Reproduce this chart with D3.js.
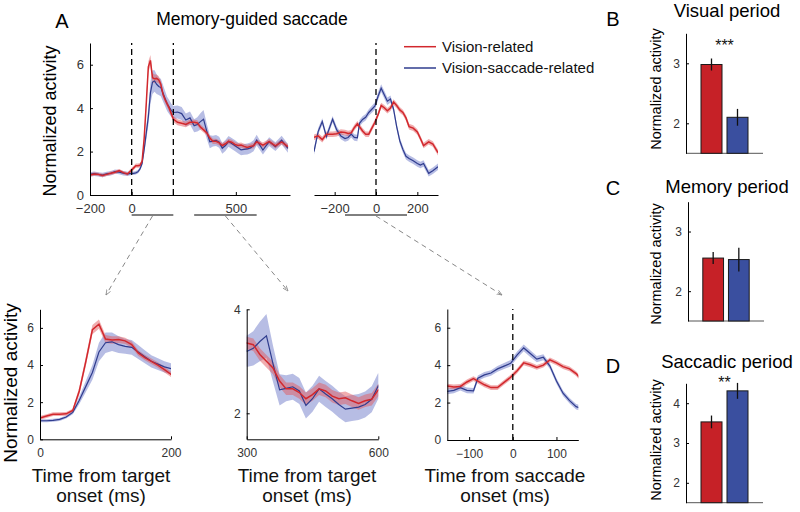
<!DOCTYPE html>
<html><head><meta charset="utf-8">
<script src="https://cdn.jsdelivr.net/npm/d3@7"></script>
<style>
body{margin:0;background:#fff}
text{font-family:"Liberation Sans",Arial,sans-serif}
</style>
</head><body>
<svg id="c" width="800" height="512"></svg>
<script>
// ---------- DATA ----------
// target-aligned time (ms)
const targetTime = [-200,-180,-160,-140,-120,-100,-80,-60,-40,-20,
  0,10,20,30,40,50,60,70,80,90,
  100,110,120,130,140,150,160,170,180,190,
  200,220,240,260,280,
  300,315,330,345,360,375,390,405,420,435,450,465,480,495,510,525,540,555,570,585,600,
  630,660,690,720,750];
const targetRed = [0.92,0.97,0.95,0.90,0.95,1.00,1.05,1.12,1.03,0.97,
  1.15,1.25,1.35,1.35,1.37,1.55,2.60,4.20,5.90,6.20,
  5.40,5.35,5.37,5.30,5.10,4.65,4.40,4.20,4.00,3.75,
  3.50,3.35,3.30,3.25,3.35,
  3.35,3.32,3.13,3.00,2.87,2.62,2.47,2.47,2.40,2.28,2.36,2.47,2.43,2.33,2.28,2.30,2.24,2.19,2.24,2.27,2.45,
  2.30,2.46,2.26,2.45,2.23];
const targetRedSem = [0.08,0.08,0.08,0.08,0.08,0.08,0.08,0.08,0.08,0.08,
  0.10,0.10,0.10,0.10,0.10,0.10,0.20,0.25,0.25,0.25,
  0.22,0.20,0.18,0.17,0.16,0.15,0.15,0.15,0.15,0.15,
  0.14,0.14,0.13,0.13,0.13,
  0.12,0.12,0.12,0.12,0.12,0.12,0.12,0.12,0.12,0.12,0.12,0.12,0.12,0.12,0.12,0.12,0.12,0.12,0.12,0.12,0.12,
  0.12,0.12,0.12,0.12,0.12];
const targetBlue = [0.95,0.98,0.95,0.92,0.97,1.00,1.08,1.05,1.00,0.97,
  1.00,1.00,1.02,1.07,1.20,1.45,2.10,2.85,3.60,4.70,
  5.20,5.25,5.10,5.00,4.95,4.70,4.45,4.20,4.05,3.90,
  3.80,3.82,3.75,3.45,3.55,
  3.19,3.25,3.38,3.49,2.95,2.45,2.48,2.51,2.43,2.15,2.28,2.47,2.37,2.28,2.17,2.08,2.10,2.12,2.17,2.27,2.53,
  2.07,2.46,2.23,2.53,2.15];
const targetBlueSem = [0.10,0.10,0.10,0.10,0.10,0.10,0.10,0.10,0.10,0.10,
  0.08,0.08,0.08,0.08,0.08,0.10,0.20,0.30,0.40,0.50,
  0.55,0.50,0.45,0.40,0.40,0.38,0.35,0.33,0.32,0.30,
  0.30,0.30,0.30,0.30,0.30,
  0.30,0.33,0.38,0.42,0.35,0.30,0.25,0.25,0.25,0.25,0.25,0.25,0.25,0.25,0.25,0.25,0.25,0.25,0.25,0.25,0.25,
  0.20,0.20,0.20,0.20,0.20];

// saccade-aligned time (ms)
const saccTime = [-300,-280,-260,-240,-210,-190,-170,-150,
  -135,-120,-105,-90,-80,-65,-50,-35,-20,-5,
  10,25,40,55,70,85,100,115,130,145,
  160,180,200,215,230,255,275,300];
const saccRed = [2.66,2.72,2.55,2.80,2.80,2.82,2.90,2.88,
  2.83,2.86,3.10,3.28,3.15,2.95,2.80,2.80,3.08,3.35,
  3.70,4.12,4.02,3.88,4.00,4.28,4.12,3.92,3.80,3.55,
  3.15,3.08,2.90,2.60,2.28,2.45,2.35,1.95];
const saccRedSem = [0.13,0.13,0.13,0.13,0.13,0.13,0.13,0.13,
  0.13,0.13,0.13,0.13,0.13,0.13,0.13,0.13,0.13,0.13,
  0.13,0.13,0.13,0.13,0.13,0.13,0.13,0.13,0.13,0.13,
  0.13,0.13,0.13,0.13,0.13,0.13,0.13,0.13];
const saccBlue = [2.00,2.92,3.38,2.69,3.49,3.00,2.72,2.60,
  2.65,2.80,2.65,2.63,3.30,3.48,3.58,3.80,3.95,4.10,
  4.55,4.92,4.62,4.32,4.42,3.95,3.15,2.50,2.10,1.78,
  1.68,1.58,1.45,1.38,1.45,1.00,1.12,1.30];
const saccBlueSem = [0.15,0.15,0.15,0.15,0.15,0.15,0.15,0.15,
  0.15,0.15,0.15,0.15,0.15,0.15,0.15,0.15,0.16,0.17,
  0.18,0.18,0.18,0.17,0.16,0.15,0.15,0.15,0.15,0.15,
  0.15,0.15,0.15,0.15,0.15,0.15,0.15,0.15];

// bar charts
const groups = ["Vision-related", "Vision-saccade-related"];
const visualMean = [2.98, 2.10];
const visualErr = [0.10, 0.14];
const memoryMean = [2.555, 2.53];
const memoryErr = [0.10, 0.20];
const saccadicMean = [3.53, 4.31];
const saccadicErr = [0.16, 0.20];

// ---------- DRAWING ----------
const svg = d3.select("#c");
const RED = "#d2282d", BLUE = "#2f3c8e";
const REDBAND = "#e25c5f", BLUEBAND = "#8791d2";
const BARRED = "#c62127", BARBLUE = "#3a4f9f";
const TICKCOL = "#333";
const fmt = d3.format("d");

const defs = svg.append("defs");
defs.append("marker").attr("id","arrow").attr("viewBox","0 0 10 10")
  .attr("refX",9).attr("refY",5).attr("markerWidth",6).attr("markerHeight",6)
  .attr("orient","auto")
  .append("path").attr("d","M0,1.5 L9,5 L0,8.5").attr("fill","none").attr("stroke","#888").attr("stroke-width",1.3);

let clipN = 0;
function styleAxis(g, fs){
  g.select(".domain").attr("stroke","#000").attr("stroke-width",1);
  g.selectAll(".tick line").attr("stroke","#000");
  g.selectAll(".tick text").attr("fill",TICKCOL).attr("font-size",fs)
    .attr("font-family","Liberation Sans, Arial, sans-serif");
}

function linePanel(o){
  const x = d3.scaleLinear().domain(o.xd).range([o.x0,o.x1]);
  const y = d3.scaleLinear().domain(o.yd).range([o.y0,o.y1]);
  const id = "clip"+(clipN++);
  defs.append("clipPath").attr("id",id).append("rect")
    .attr("x",o.x0).attr("y",o.y1-6).attr("width",o.x1-o.x0).attr("height",o.y0-o.y1+6);
  const g = svg.append("g");
  const dg = g.append("g").attr("clip-path",`url(#${id})`);
  const idx = o.t.map((d,i)=>i);
  const area = (m,s)=>d3.area().x(i=>x(o.t[i])).y0(i=>y(m[i]-s[i])).y1(i=>y(m[i]+s[i]));
  const line = m=>d3.line().x(i=>x(o.t[i])).y(i=>y(m[i]));
  dg.append("path").datum(idx).attr("d",area(o.b,o.bs)).attr("fill",BLUEBAND).attr("opacity",0.6);
  dg.append("path").datum(idx).attr("d",area(o.r,o.rs)).attr("fill",REDBAND).attr("opacity",0.5);
  dg.append("path").datum(idx).attr("d",line(o.b)).attr("fill","none").attr("stroke",BLUE).attr("stroke-width",1.2);
  dg.append("path").datum(idx).attr("d",line(o.r)).attr("fill","none").attr("stroke",RED).attr("stroke-width",1.5);
  (o.dashed||[]).forEach(v=>{
    g.append("line").attr("x1",x(v)).attr("x2",x(v)).attr("y1",o.y0).attr("y2",o.y1)
      .attr("stroke","#000").attr("stroke-width",1.3).attr("stroke-dasharray","6,4");
  });
  const xa = g.append("g").attr("transform",`translate(0,${o.y0})`)
    .call(d3.axisBottom(x).tickValues(o.xt).tickFormat(fmt).tickSizeInner(-3).tickSizeOuter(0).tickPadding(9));
  styleAxis(xa, o.fs);
  if(o.showY!==false){
    const ya = g.append("g").attr("transform",`translate(${o.x0},0)`)
      .call(d3.axisLeft(y).tickValues(o.yt).tickFormat(fmt).tickSizeInner(-3).tickSizeOuter(0).tickPadding(6));
    styleAxis(ya, o.fs);
  }
  return x;
}

// --- Panel A top ---
const xTL = linePanel({x0:90,x1:290,y0:195,y1:43,xd:[-200,760],yd:[0,7],
  t:targetTime,r:targetRed,rs:targetRedSem,b:targetBlue,bs:targetBlueSem,
  xt:[-200,0,500],yt:[0,2,4,6],dashed:[0,200],fs:13});
const xTR = linePanel({x0:314,x1:438,y0:195,y1:43,xd:[-300,300],yd:[0,7],
  t:saccTime,r:saccRed,rs:saccRedSem,b:saccBlue,bs:saccBlueSem,
  xt:[-200,0,200],yt:[],showY:false,dashed:[0],fs:13});

// --- bottom panels ---
linePanel({x0:40,x1:171,y0:439.3,y1:309.3,xd:[0,200],yd:[0,7],
  t:targetTime,r:targetRed,rs:targetRedSem,b:targetBlue,bs:targetBlueSem,
  xt:[0,200],yt:[0,2,4,6],fs:12});
linePanel({x0:246.7,x1:378.3,y0:439.3,y1:309.3,xd:[300,600],yd:[1.5,4],
  t:targetTime,r:targetRed,rs:targetRedSem,b:targetBlue,bs:targetBlueSem,
  xt:[300,600],yt:[2,4],fs:12});
linePanel({x0:447.3,x1:578.3,y0:440,y1:309,xd:[-150,150],yd:[0,7],
  t:saccTime,r:saccRed,rs:saccRedSem,b:saccBlue,bs:saccBlueSem,
  xt:[-100,0,100],yt:[0,2,4,6],dashed:[0],fs:12});

// --- selection lines and arrows ---
const UL = 215;
[[xTL,0,200],[xTL,300,600],[xTR,-150,150]].forEach(([sc,a,b])=>{
  svg.append("line").attr("x1",sc(a)).attr("x2",sc(b)).attr("y1",UL).attr("y2",UL)
    .attr("stroke","#000").attr("stroke-width",1);
});
[[xTL(100),UL,106,295],[xTL(450),UL,288,291],[xTR(0),UL,502,295]].forEach(([a,b,c,d])=>{
  svg.append("line").attr("x1",a).attr("y1",b+1).attr("x2",c).attr("y2",d)
    .attr("stroke","#888").attr("stroke-width",1).attr("stroke-dasharray","5,4")
    .attr("marker-end","url(#arrow)");
});

// --- texts of panel A ---
svg.append("text").attr("x",62).attr("y",28).attr("text-anchor","middle").attr("font-size",20).text("A");
svg.append("text").attr("x",252).attr("y",25).attr("text-anchor","middle").attr("font-size",17.5).text("Memory-guided saccade");
svg.append("text").attr("transform","translate(56,121) rotate(-90)").attr("text-anchor","middle").attr("font-size",18).text("Normalized activity");
svg.append("text").attr("transform","translate(17,383) rotate(-90)").attr("text-anchor","middle").attr("font-size",19).text("Normalized activity");

const xlab = [[101,"Time from target"],[307,"Time from target"],[505,"Time from saccade"]];
xlab.forEach(([cx,l1])=>{
  svg.append("text").attr("x",cx).attr("y",481.5).attr("text-anchor","middle").attr("font-size",19).attr("fill","#111").text(l1);
  svg.append("text").attr("x",cx).attr("y",502).attr("text-anchor","middle").attr("font-size",19).attr("fill","#111").text("onset (ms)");
});

// legend
const legY = [46.7, 68];
groups.forEach((gname,i)=>{
  svg.append("line").attr("x1",404).attr("x2",436).attr("y1",legY[i]).attr("y2",legY[i])
    .attr("stroke",i===0?RED:BLUE).attr("stroke-width",1.5);
  svg.append("text").attr("x",442).attr("y",legY[i]+5).attr("font-size",15).attr("fill","#111").text(gname);
});

// --- bar panels ---
function barPanel(o){
  const y = d3.scaleLinear().domain(o.yd).range([o.y0,o.y1]);
  const x = d3.scaleBand().domain(groups).range([o.x0,o.x1]).paddingInner(0.192).paddingOuter(0.577);
  const g = svg.append("g");
  g.append("line").attr("x1",o.x0).attr("x2",o.x1).attr("y1",o.y0).attr("y2",o.y0).attr("stroke","#555").attr("stroke-width",1);
  const ya = g.append("g").attr("transform",`translate(${o.x0},0)`)
    .call(d3.axisLeft(y).tickValues(o.yt).tickFormat(fmt).tickSizeInner(-3).tickSizeOuter(0).tickPadding(6));
  styleAxis(ya, 12);
  groups.forEach((gn,i)=>{
    g.append("rect").attr("x",x(gn)).attr("width",x.bandwidth())
      .attr("y",y(o.means[i])).attr("height",y(o.yd[0])-y(o.means[i]))
      .attr("fill",i===0?BARRED:BARBLUE).attr("stroke","#1a1a1a").attr("stroke-width",1);
    const cx = x(gn)+x.bandwidth()/2;
    g.append("line").attr("x1",cx).attr("x2",cx)
      .attr("y1",y(o.means[i]+o.errs[i])).attr("y2",y(o.means[i]-o.errs[i]))
      .attr("stroke","#111").attr("stroke-width",1.3);
  });
  svg.append("text").attr("x",613).attr("y",o.letterY).attr("text-anchor","middle").attr("font-size",20).text(o.letter);
  svg.append("text").attr("x",727).attr("y",o.titleY).attr("text-anchor","middle").attr("font-size",18.5).text(o.title);
  svg.append("text").attr("transform",`translate(661,${o.labY}) rotate(-90)`).attr("text-anchor","middle").attr("font-size",14.5).text("Normalized activity");
  if(o.stars){
    svg.append("text").attr("x",(x(groups[0])+x(groups[1])+x.bandwidth())/2).attr("y",o.starY)
      .attr("text-anchor","middle").attr("font-size",16).attr("fill","#111").text(o.stars);
  }
}
barPanel({x0:686,x1:763,y0:153.3,y1:33.3,yd:[1.5,3.5],yt:[2,3],means:visualMean,errs:visualErr,
  letter:"B",letterY:26,title:"Visual period",titleY:17,labY:89,stars:"***",starY:51});
barPanel({x0:688,x1:764,y0:321,y1:201.7,yd:[1.5,3.5],yt:[2,3],means:memoryMean,errs:memoryErr,
  letter:"C",letterY:195,title:"Memory period",titleY:193,labY:264});
barPanel({x0:686,x1:763,y0:502.7,y1:383.3,yd:[1.5,4.5],yt:[2,3,4],means:saccadicMean,errs:saccadicErr,
  letter:"D",letterY:373,title:"Saccadic period",titleY:368,labY:440,stars:"**",starY:388});
</script>
</body></html>
